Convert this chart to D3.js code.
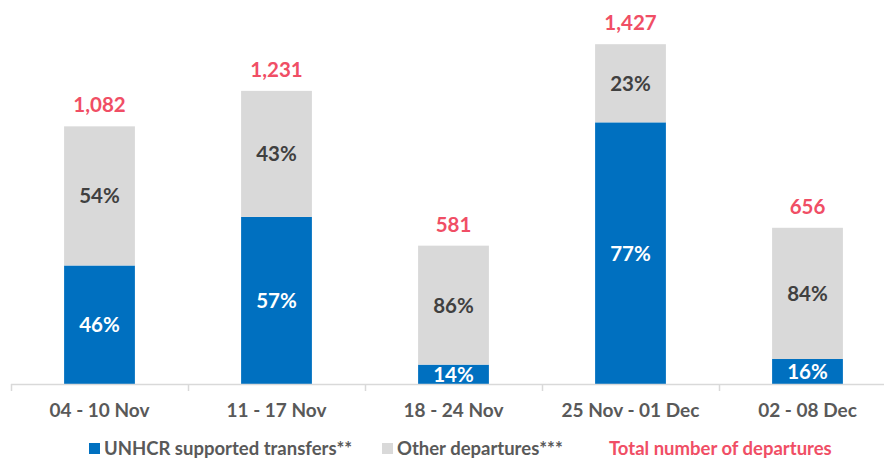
<!DOCTYPE html>
<html>
<head>
<meta charset="utf-8">
<script src="https://cdn.jsdelivr.net/npm/d3@7"></script>
<style>
  body { margin: 0; background: #fff; }
  svg { display: block; }
</style>
</head>
<body>
<div class="canvas"></div>
<script>
const weeks = ["04 - 10 Nov", "11 - 17 Nov", "18 - 24 Nov", "25 Nov - 01 Dec", "02 - 08 Dec"];
const totals = [1082, 1231, 581, 1427, 656];
const unhcrPct = [46, 57, 14, 77, 16];
const otherPct = [54, 43, 86, 23, 84];
const legendLabels = ["UNHCR supported transfers**", "Other departures***", "Total number of departures"];

const width = 884, height = 459;
const blue = "#0070C0", grey = "#D9D9D9", red = "#F04E65";

const data = weeks.map((w, i) => ({
  week: w, total: totals[i], unhcr: unhcrPct[i], other: otherPct[i]
}));

const svg = d3.select(".canvas").append("svg")
  .attr("width", width).attr("height", height)
  .style("font-family", "Lato, 'Open Sans', sans-serif")
  .style("font-weight", "bold");

const x = d3.scaleBand().domain(weeks).range([11, 896]).paddingInner(0.6).paddingOuter(0.3);
const y = d3.scaleLinear().domain([0, 1600]).range([384, 3]);

// stacked: UNHCR on bottom, other on top
const series = d3.stack().keys(["unhcr", "other"])
  .value((d, k) => d.total * d[k] / 100)(data);

const colors = { unhcr: blue, other: grey };

const g = svg.selectAll("g.series").data(series).join("g")
  .attr("fill", s => colors[s.key]);

g.selectAll("rect").data(s => s.map(p => ({ p, key: s.key })))
  .join("rect")
  .attr("x", d => x(d.p.data.week))
  .attr("width", x.bandwidth())
  .attr("y", d => y(d.p[1]))
  .attr("height", d => y(d.p[0]) - y(d.p[1]));

g.selectAll("text").data(s => s.map(p => ({ p, key: s.key })))
  .join("text")
  .attr("x", d => x(d.p.data.week) + x.bandwidth() / 2)
  .attr("y", d => (y(d.p[0]) + y(d.p[1])) / 2)
  .attr("dy", "0.36em")
  .attr("text-anchor", "middle")
  .attr("font-size", 20.5)
  .attr("fill", d => d.key === "unhcr" ? "#fff" : "#404040")
  .text(d => d.p.data[d.key] + "%");

// totals
svg.append("g").selectAll("text").data(data).join("text")
  .attr("x", d => x(d.week) + x.bandwidth() / 2)
  .attr("y", d => y(d.total) - 14)
  .attr("text-anchor", "middle")
  .attr("font-size", 20.5)
  .attr("fill", red)
  .text(d => d3.format(",")(d.total));

// axis line, ticks on category boundaries
const step = x.step();
const axisG = svg.append("g");
axisG.append("line")
  .attr("x1", 11).attr("x2", width)
  .attr("y1", 384.5).attr("y2", 384.5)
  .attr("stroke", "#D9D9D9").attr("stroke-width", 1.5);
axisG.selectAll("line.tick").data(weeks).join("line")
  .attr("class", "tick")
  .attr("x1", d => x(d) - x.paddingInner() * step / 2 + 0.5)
  .attr("x2", d => x(d) - x.paddingInner() * step / 2 + 0.5)
  .attr("y1", 384).attr("y2", 391)
  .attr("stroke", "#D9D9D9").attr("stroke-width", 1.5);
axisG.selectAll("text").data(weeks).join("text")
  .attr("x", d => x(d) + x.bandwidth() / 2)
  .attr("y", 417)
  .attr("text-anchor", "middle")
  .attr("font-size", 19)
  .attr("fill", "#595959")
  .text(d => d);

// legend
const legend = svg.append("g");
const legX = [89, 382, 609];
const legColors = [blue, grey, null];
legendLabels.forEach((t, i) => {
  if (legColors[i]) {
    legend.append("rect")
      .attr("x", legX[i]).attr("y", 443)
      .attr("width", 11).attr("height", 11)
      .attr("fill", legColors[i]);
  }
  legend.append("text")
    .attr("x", legColors[i] ? legX[i] + 15 : legX[i])
    .attr("y", 455)
    .attr("font-size", 18.5)
    .attr("fill", legColors[i] ? "#595959" : red)
    .text(t);
});
</script>
</body>
</html>
